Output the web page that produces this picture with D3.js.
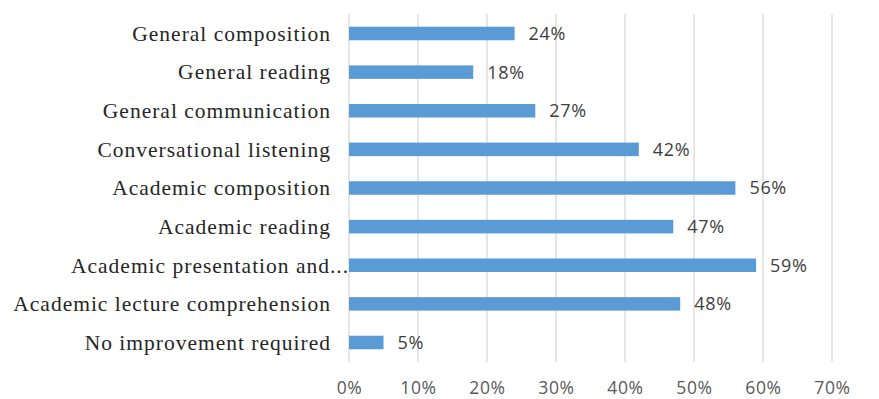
<!DOCTYPE html>
<html>
<head>
<meta charset="utf-8">
<script src="https://cdn.jsdelivr.net/npm/d3@7"></script>
<style>
  body { margin: 0; background: #fff; }
  svg { display: block; }
</style>
</head>
<body>
<div id="chart"></div>
<script>
// chart data
let categories = ["General composition", "General reading", "General communication",
    "Conversational listening", "Academic composition", "Academic reading",
    "Academic presentation and...", "Academic lecture comprehension", "No improvement required"];
let values = [24, 18, 27, 42, 56, 47, 59, 48, 5];
let tickValues = [0, 10, 20, 30, 40, 50, 60, 70];

function barChart(){
    let W = 879, H = 399;
    let margin = {"top": 14, "bottom": 37, "left": 349, "right": 47};
    let width = W - margin.left - margin.right;
    let height = H - margin.top - margin.bottom;

    let svg = d3.select("#chart").append("svg")
        .attr("width", W)
        .attr("height", H)
        .append("g")
        .attr("transform", "translate(" + margin.left + ", " + margin.top + ")");

    let x = d3.scaleLinear().domain([0, 70]).range([0, width]);
    let y = d3.scaleBand().domain(categories).range([0, height]).paddingInner(0.65).paddingOuter(0.33);

    // gridlines
    svg.selectAll(".grid")
        .data(tickValues)
        .enter().append("line")
        .attr("x1", d => x(d)).attr("x2", d => x(d))
        .attr("y1", 0).attr("y2", height)
        .attr("stroke", "#d9d9d9")
        .attr("stroke-width", 1.3);

    // bottom tick labels
    let xAxis = d3.axisBottom(x).tickValues(tickValues).tickSize(0).tickPadding(0)
        .tickFormat(d => d + "%");
    let gx = svg.append("g")
        .attr("transform", "translate(0, " + (height + 26) + ")")
        .call(xAxis);
    gx.select(".domain").remove();
    gx.selectAll("text")
        .attr("dy", "0.35em")
        .style("font-family", "'Open Sans', sans-serif")
        .style("font-size", "17.5px")
        .style("letter-spacing", "0.6px")
        .style("fill", "#595959");

    // bars
    svg.selectAll(".bar")
        .data(values)
        .enter().append("rect")
        .attr("x", x(0))
        .attr("y", (d, i) => y(categories[i]))
        .attr("width", d => x(d) - x(0))
        .attr("height", y.bandwidth())
        .style("fill", "#5b9bd5");

    // value labels
    svg.selectAll(".val")
        .data(values)
        .enter().append("text")
        .attr("x", d => x(d) + 14)
        .attr("y", (d, i) => y(categories[i]) + y.bandwidth() / 2)
        .attr("dy", "0.36em")
        .style("font-family", "'Open Sans', sans-serif")
        .style("font-size", "18px")
        .style("letter-spacing", "0.7px")
        .style("fill", "#404040")
        .text(d => d + "%");

    // category labels
    let labels = svg.selectAll(".cat")
        .data(categories)
        .enter().append("text")
        .attr("x", -18)
        .attr("y", d => y(d) + y.bandwidth() / 2)
        .attr("dy", "0.34em")
        .attr("text-anchor", "end")
        .style("font-family", "'Liberation Serif', 'Times New Roman', serif")
        .style("font-size", "21.5px")
        .style("letter-spacing", "1px")
        .style("fill", "#262626")
        .text(d => d);

    // truncated label: the dots hang past the label edge
    labels.filter(d => d.endsWith("...")).each(function(){
        let t = d3.select(this);
        let probe = svg.append("text")
            .style("font-family", "'Liberation Serif', 'Times New Roman', serif")
            .style("font-size", "21.5px")
            .text("...");
        let w = probe.node().getComputedTextLength();
        probe.remove();
        t.attr("x", -18 + w + 2);
    });
}

barChart();
</script>
</body>
</html>
